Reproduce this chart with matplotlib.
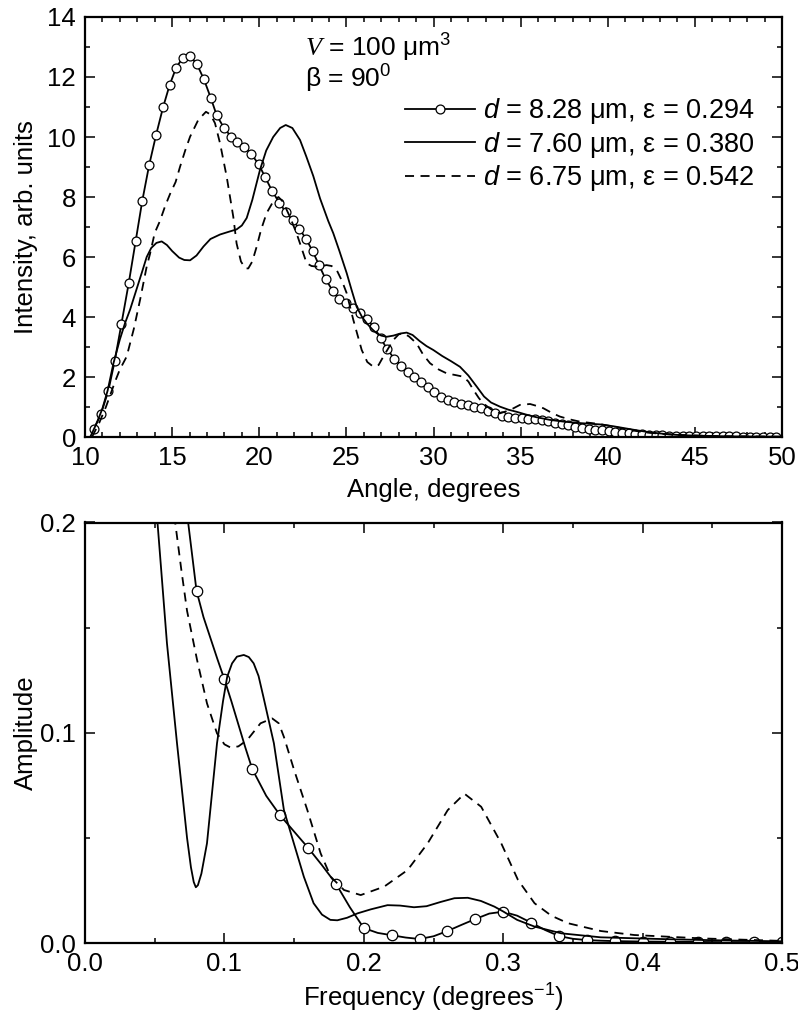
import numpy as np
import matplotlib
matplotlib.use("Agg")
import matplotlib.pyplot as plt
from matplotlib.ticker import MultipleLocator, FormatStrFormatter

plt.rcParams['font.family'] = ['Liberation Sans', 'DejaVu Sans']
plt.rcParams['mathtext.fontset'] = 'custom'
plt.rcParams['mathtext.rm'] = 'Liberation Sans'
plt.rcParams['mathtext.it'] = 'Liberation Sans:italic'
plt.rcParams['mathtext.cal'] = 'Liberation Serif:italic'

# ---------------- top panel data (intensity vs angle) ----------------
ang_c = [10.52, 10.92, 11.34, 11.70, 12.09, 12.51, 12.91, 13.28, 13.68, 14.08,
         14.48, 14.85, 15.23, 15.61, 16.03, 16.42, 16.82, 17.22, 17.56, 17.99,
         18.39, 18.75, 19.14, 19.54, 19.96, 20.34, 20.73, 21.15, 21.53, 21.92,
         22.30, 22.68, 23.06, 23.43, 23.81, 24.21, 24.60, 24.98, 25.40, 25.78,
         26.17, 26.59, 26.97, 27.35, 27.75, 28.14, 28.52, 28.90, 29.28, 29.66,
         30.05, 30.43, 30.81, 31.19, 31.58, 31.96, 32.34, 32.73, 33.10, 33.53,
         33.91, 34.30, 34.68, 35.06, 35.44, 35.83, 36.20, 36.59, 36.97, 37.36,
         37.74, 38.13, 38.51, 38.90, 39.28, 39.67, 40.05, 40.44, 40.82, 41.21,
         41.59, 41.98, 42.36, 42.75, 43.13, 43.52, 43.90, 44.29, 44.67, 45.06,
         45.44, 45.83, 46.21, 46.60, 46.98, 47.37, 47.75, 48.14, 48.52, 48.91,
         49.29, 49.68]
int_c = [0.28, 0.78, 1.54, 2.52, 3.77, 5.13, 6.54, 7.85, 9.06, 10.07,
         10.99, 11.72, 12.31, 12.64, 12.70, 12.43, 11.93, 11.30, 10.72, 10.29,
         10.01, 9.82, 9.68, 9.43, 9.10, 8.66, 8.21, 7.81, 7.49, 7.23,
         6.94, 6.61, 6.20, 5.73, 5.26, 4.88, 4.59, 4.46, 4.30, 4.12,
         3.92, 3.66, 3.29, 2.92, 2.61, 2.38, 2.18, 2.00, 1.83, 1.67,
         1.50, 1.34, 1.23, 1.16, 1.10, 1.06, 1.01, 0.96, 0.87, 0.79,
         0.71, 0.68, 0.64, 0.62, 0.61, 0.59, 0.57, 0.52, 0.48, 0.43,
         0.39, 0.35, 0.31, 0.28, 0.25, 0.22, 0.19, 0.16, 0.14, 0.12,
         0.10, 0.09, 0.08, 0.07, 0.06, 0.05, 0.045, 0.04, 0.035, 0.03,
         0.03, 0.025, 0.025, 0.02, 0.02, 0.02, 0.015, 0.015, 0.015, 0.01,
         0.01, 0.01]

ang_s = [10.30, 10.70, 11.00, 11.30, 11.63, 12.00, 12.30, 12.59, 13.00, 13.30,
         13.54, 13.80, 14.10, 14.40, 14.70, 15.00, 15.40, 15.70, 16.03, 16.40,
         16.80, 17.20, 17.75, 18.30, 18.70, 19.00, 19.28, 19.60, 20.04, 20.40,
         20.80, 21.20, 21.52, 21.90, 22.34, 22.70, 23.10, 23.49, 23.96, 24.25,
         24.60, 25.02, 25.30, 25.59, 25.90, 26.17, 26.50, 26.74, 27.00, 27.31,
         27.70, 28.10, 28.46, 28.80, 29.20, 29.60, 29.99, 30.50, 31.00, 31.52,
         32.00, 32.48, 32.90, 33.30, 33.82, 34.30, 34.77, 35.30, 35.90, 36.69,
         37.50, 38.50, 39.56, 40.30, 41.00, 41.70, 42.50, 43.30, 44.20, 45.50,
         47.00, 48.50, 50.00]
int_s = [0.00, 0.50, 0.95, 1.55, 2.45, 3.25, 3.80, 4.25, 5.00, 5.55,
         6.00, 6.30, 6.47, 6.52, 6.40, 6.20, 5.98, 5.90, 5.89, 6.05,
         6.35, 6.60, 6.75, 6.85, 6.92, 7.05, 7.30, 7.90, 8.90, 9.55,
         10.00, 10.30, 10.40, 10.30, 9.90, 9.35, 8.70, 7.95, 7.20, 6.79,
         6.20, 5.46, 4.90, 4.34, 4.00, 3.79, 3.58, 3.46, 3.38, 3.34,
         3.38, 3.45, 3.48, 3.40, 3.20, 3.03, 2.90, 2.70, 2.53, 2.34,
         2.05, 1.68, 1.35, 1.15, 1.01, 0.91, 0.84, 0.75, 0.66, 0.57,
         0.51, 0.46, 0.42, 0.36, 0.29, 0.22, 0.15, 0.10, 0.06, 0.04,
         0.02, 0.015, 0.01]

ang_d = [10.40, 10.80, 11.20, 11.72, 12.00, 12.39, 12.80, 13.16, 13.54, 13.73,
         14.00, 14.30, 14.60, 14.88, 15.20, 15.45, 15.75, 16.03, 16.50, 16.94,
         17.20, 17.46, 17.75, 18.13, 18.51, 18.70, 18.95, 19.20, 19.37, 19.60,
         19.85, 20.10, 20.42, 20.80, 21.10, 21.35, 21.76, 22.14, 22.34, 22.72,
         23.00, 23.29, 23.60, 23.86, 24.15, 24.44, 24.75, 25.02, 25.40, 25.88,
         26.20, 26.55, 26.85, 27.12, 27.40, 27.69, 28.00, 28.27, 28.60, 29.03,
         29.40, 29.80, 30.30, 30.76, 31.30, 31.71, 32.00, 32.29, 32.60, 32.86,
         33.30, 33.82, 34.40, 34.96, 35.54, 35.90, 36.30, 36.80, 37.26, 37.80,
         38.41, 39.00, 39.56, 40.30, 41.28, 42.20, 43.20, 44.50, 46.00, 48.00,
         50.00]
int_d = [0.00, 0.45, 1.00, 1.84, 2.25, 2.68, 3.60, 4.57, 5.68, 6.10,
         6.80, 7.20, 7.70, 8.10, 8.50, 9.00, 9.55, 10.01, 10.57, 10.84,
         10.75, 10.46, 9.79, 8.68, 7.34, 6.45, 5.85, 5.62, 5.62, 5.85,
         6.34, 6.90, 7.46, 7.85, 8.00, 7.85, 7.34, 6.79, 6.45, 5.79,
         5.70, 5.68, 5.70, 5.73, 5.70, 5.57, 5.20, 4.79, 3.90, 2.90,
         2.50, 2.34, 2.40, 2.68, 2.95, 3.23, 3.42, 3.46, 3.35, 3.12,
         2.75, 2.46, 2.25, 2.12, 2.06, 2.01, 1.85, 1.57, 1.30, 1.12,
         0.92, 0.79, 0.90, 1.07, 1.10, 1.04, 0.96, 0.80, 0.68, 0.59,
         0.51, 0.47, 0.43, 0.35, 0.23, 0.15, 0.10, 0.06, 0.03, 0.02,
         0.01]

# ---------------- bottom panel data (amplitude vs frequency) ----------------
frq_c = [0.060, 0.065, 0.070, 0.074, 0.080, 0.085, 0.090, 0.095, 0.100, 0.105,
         0.110, 0.115, 0.120, 0.130, 0.140, 0.150, 0.160, 0.170, 0.180, 0.190,
         0.200, 0.210, 0.220, 0.230, 0.240, 0.250, 0.260, 0.270, 0.280, 0.290,
         0.300, 0.310, 0.320, 0.330, 0.340, 0.350, 0.360, 0.370, 0.380, 0.400,
         0.420, 0.440, 0.460, 0.480, 0.500]
amp_c = [0.290, 0.255, 0.222, 0.200, 0.1675, 0.155, 0.145, 0.135, 0.1254, 0.115,
         0.104, 0.093, 0.0827, 0.0700, 0.0607, 0.0530, 0.0453, 0.0370, 0.0282, 0.0170,
         0.0071, 0.0048, 0.0037, 0.0026, 0.0019, 0.0032, 0.0057, 0.0086, 0.0114, 0.0140,
         0.0149, 0.0130, 0.0097, 0.0062, 0.0033, 0.0020, 0.0014, 0.0011, 0.0009, 0.0007,
         0.0006, 0.0005, 0.0004, 0.0004, 0.0003]

frq_s = [0.045, 0.052, 0.0588, 0.066, 0.0700, 0.0732, 0.0760, 0.0780, 0.0795, 0.0810,
         0.0835, 0.0875, 0.0947, 0.0990, 0.1020, 0.1055, 0.1090, 0.1139, 0.1175, 0.1210,
         0.1245, 0.1280, 0.1355, 0.1427, 0.1500, 0.1570, 0.1640, 0.1700, 0.1760, 0.1810,
         0.1880, 0.1955, 0.2050, 0.2170, 0.2260, 0.2360, 0.2450, 0.2550, 0.2650, 0.2746,
         0.2840, 0.2937, 0.3000, 0.3100, 0.3225, 0.3417, 0.3700, 0.4180, 0.4600, 0.5000]
amp_s = [0.250, 0.200, 0.1425, 0.0950, 0.0700, 0.0500, 0.0360, 0.0290, 0.0265, 0.0275,
         0.0330, 0.0474, 0.0950, 0.1150, 0.1266, 0.1330, 0.1362, 0.1370, 0.1360, 0.1330,
         0.1270, 0.1170, 0.0950, 0.0632, 0.0470, 0.0315, 0.0189, 0.0135, 0.0110, 0.0108,
         0.0120, 0.0141, 0.0160, 0.0180, 0.0178, 0.0170, 0.0175, 0.0195, 0.0213, 0.0215,
         0.0200, 0.0173, 0.0150, 0.0110, 0.0078, 0.0046, 0.0027, 0.0018, 0.0012, 0.0008]

frq_d = [0.058, 0.0647, 0.0690, 0.0732, 0.0804, 0.0875, 0.0947, 0.1000, 0.1043, 0.1100,
         0.1163, 0.1259, 0.1343, 0.1390, 0.1427, 0.1500, 0.1595, 0.1690, 0.1763, 0.1858,
         0.1978, 0.2146, 0.2314, 0.2458, 0.2602, 0.2722, 0.2842, 0.2986, 0.3106, 0.3225,
         0.3345, 0.3465, 0.3700, 0.3940, 0.4420, 0.5000]
amp_d = [0.240, 0.200, 0.178, 0.158, 0.1346, 0.114, 0.0997, 0.0945, 0.0930, 0.0935,
         0.0965, 0.1045, 0.1068, 0.1045, 0.0980, 0.0823, 0.0632, 0.0427, 0.0315, 0.0252,
         0.0228, 0.0268, 0.0347, 0.0474, 0.0632, 0.0710, 0.0648, 0.0474, 0.0300, 0.0189,
         0.0130, 0.0094, 0.0057, 0.0038, 0.0022, 0.0010]

labels = ['$d$ = 8.28 μm, ε = 0.294',
          '$d$ = 7.60 μm, ε = 0.380',
          '$d$ = 6.75 μm, ε = 0.542']

# ---------------- figure ----------------
fig = plt.figure(figsize=(7.98, 10.13), dpi=100)
ax1 = fig.add_axes([85/798, 1-437/1013, 697/798, 420/1013])
ax2 = fig.add_axes([85/798, 1-943/1013, 697/798, 420.5/1013])

FS = 18.5
LW = 1.3
dash = (5.0, 3.6)

def style(ax):
    for sp in ax.spines.values():
        sp.set_linewidth(1.6)
    ax.tick_params(which='both', direction='in', top=True, right=True,
                   labelsize=FS, width=1.1)
    ax.tick_params(axis='x', which='both', pad=6.5)
    ax.tick_params(axis='y', which='both', pad=6.5)
    ax.tick_params(which='major', length=7)
    ax.tick_params(which='minor', length=3.8)

# top panel
ax1.plot(ang_c, int_c, color='black', lw=LW, marker='o', ms=6.4,
         mfc='white', mec='black', mew=0.9, label=labels[0])
ax1.plot(ang_s, int_s, color='black', lw=LW, label=labels[1])
ax1.plot(ang_d, int_d, color='black', lw=LW, linestyle=(0, dash), label=labels[2])
ax1.set_xlim(10, 50)
ax1.set_ylim(0, 14)
ax1.xaxis.set_major_locator(MultipleLocator(5))
ax1.xaxis.set_minor_locator(MultipleLocator(1))
ax1.yaxis.set_major_locator(MultipleLocator(2))
ax1.yaxis.set_minor_locator(MultipleLocator(1))
style(ax1)
ax1.set_xlabel('Angle, degrees', fontsize=FS)
ax1.set_ylabel('Intensity, arb. units', fontsize=FS)
ax1.xaxis.set_label_coords(0.5, -0.098)
ax1.yaxis.set_label_coords(-0.068, 0.5)
ax1.text(0.315, 0.905, r'$\mathcal{V}$ = 100 μm$^3$', transform=ax1.transAxes,
         fontsize=FS + 0.5, va='baseline', ha='left')
ax1.text(0.315, 0.833, r'β = 90$^0$', transform=ax1.transAxes,
         fontsize=FS + 0.5, va='baseline', ha='left')
leg = ax1.legend(loc='upper left', bbox_to_anchor=(0.459, 0.811), frameon=False,
                 fontsize=19.5, handlelength=2.6, handletextpad=0.3,
                 labelspacing=0.13, borderpad=0, borderaxespad=0, numpoints=1)

# bottom panel
mark_idx = [i for i, f in enumerate(frq_c)
            if f >= 0.079 and abs(f * 50 - round(f * 50)) < 1e-6]
ax2.plot(frq_c, amp_c, color='black', lw=LW, marker='o', ms=7.5,
         mfc='white', mec='black', mew=0.9, markevery=mark_idx)
ax2.plot(frq_s, amp_s, color='black', lw=LW)
ax2.plot(frq_d, amp_d, color='black', lw=LW, linestyle=(0, dash))
ax2.set_xlim(0, 0.5)
ax2.set_ylim(0, 0.2)
ax2.xaxis.set_major_locator(MultipleLocator(0.1))
ax2.xaxis.set_minor_locator(MultipleLocator(0.05))
ax2.yaxis.set_major_locator(MultipleLocator(0.1))
ax2.yaxis.set_minor_locator(MultipleLocator(0.05))
ax2.xaxis.set_major_formatter(FormatStrFormatter('%.1f'))
ax2.yaxis.set_major_formatter(FormatStrFormatter('%.1f'))
style(ax2)
ax2.set_xlabel('Frequency (degrees$^{-1}$)', fontsize=FS)
ax2.set_ylabel('Amplitude', fontsize=FS)
ax2.xaxis.set_label_coords(0.5, -0.092)
ax2.yaxis.set_label_coords(-0.068, 0.5)

fig.savefig('out.png', dpi=100)
